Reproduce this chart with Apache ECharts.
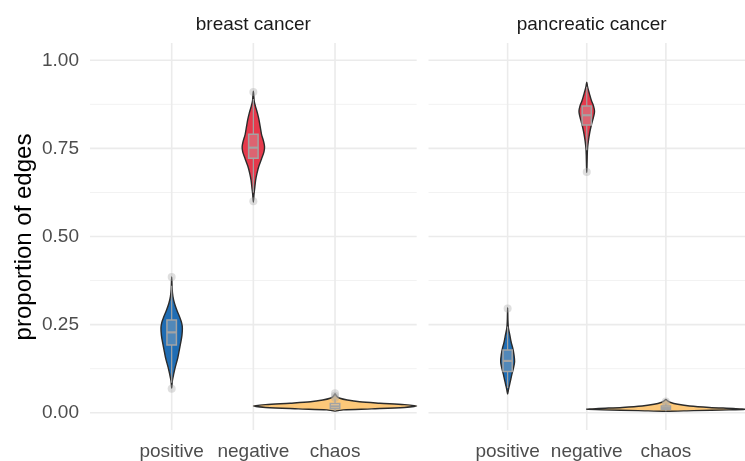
<!DOCTYPE html>
<html>
<head>
<meta charset="utf-8">
<script src="https://cdn.jsdelivr.net/npm/echarts@6/dist/echarts.min.js"></script>
<style>
  html, body { margin: 0; padding: 0; background: #fff; }
  #chart { width: 745px; height: 461px; }
</style>
</head>
<body>
<div id="chart"></div>
<script>
const categories = ['positive', 'negative', 'chaos'];
const panelTitles = ['breast cancer', 'pancreatic cancer'];
const yTicks = [0, 0.25, 0.5, 0.75, 1];
const yMinor = [0.125, 0.375, 0.625, 0.875];
const violinColors = ['#1f6db4', '#e63a4c', '#fdc879'];

// violin outlines: [proportion, half width in category units]
const breastPositive = [[0.07, 0], [0.09, 0.008], [0.11, 0.025], [0.13, 0.045], [0.155, 0.074], [0.18, 0.095],
  [0.2, 0.112], [0.22, 0.126], [0.24, 0.131], [0.255, 0.122], [0.27, 0.1], [0.29, 0.065], [0.31, 0.035],
  [0.33, 0.015], [0.35, 0.006], [0.385, 0]];
const breastNegative = [[0.598, 0], [0.62, 0.008], [0.64, 0.018], [0.66, 0.028], [0.68, 0.045], [0.7, 0.068],
  [0.72, 0.1], [0.74, 0.13], [0.755, 0.137], [0.77, 0.125], [0.79, 0.1], [0.81, 0.085], [0.83, 0.07],
  [0.85, 0.05], [0.87, 0.025], [0.885, 0.01], [0.9, 0.005], [0.912, 0]];
const breastChaos = [[0.005, 0], [0.008, 0.1], [0.011, 0.45], [0.015, 0.85], [0.019, 1.0], [0.023, 0.85],
  [0.027, 0.55], [0.031, 0.3], [0.036, 0.15], [0.041, 0.06], [0.047, 0.02], [0.053, 0]];
const pancPositive = [[0.053, 0], [0.065, 0.01], [0.08, 0.025], [0.095, 0.04], [0.11, 0.055], [0.125, 0.072],
  [0.145, 0.088], [0.165, 0.08], [0.183, 0.065], [0.2, 0.045], [0.22, 0.028], [0.24, 0.01], [0.26, 0.004],
  [0.298, 0]];
const pancNegative = [[0.682, 0], [0.7, 0.003], [0.73, 0.006], [0.75, 0.01], [0.77, 0.02], [0.785, 0.03],
  [0.8, 0.042], [0.815, 0.057], [0.83, 0.075], [0.845, 0.092], [0.856, 0.098], [0.87, 0.086], [0.885, 0.06],
  [0.9, 0.04], [0.91, 0.028], [0.925, 0.01], [0.938, 0]];
const pancChaos = [[0.004, 0], [0.006, 0.35], [0.008, 0.8], [0.01, 1.0], [0.012, 0.85], [0.015, 0.55],
  [0.019, 0.3], [0.024, 0.15], [0.029, 0.06], [0.034, 0.02], [0.038, 0]];

// box stats: [lower whisker, q1, median, q3, upper whisker]
const breastBoxes = [[0.085, 0.192, 0.228, 0.263, 0.36], [0.625, 0.722, 0.752, 0.79, 0.89], [0.005, 0.011, 0.018, 0.026, 0.038]];
const pancBoxes = [[0.07, 0.117, 0.147, 0.178, 0.245], [0.745, 0.816, 0.844, 0.87, 0.925], [0.004, 0.009, 0.013, 0.019, 0.026]];

// outliers: [category position, proportion]
const breastOutliers = [[1, 0.068], [1, 0.385], [2, 0.6], [2, 0.91], [3, 0.042], [3, 0.048], [3, 0.055]];
const pancOutliers = [[1, 0.296], [2, 0.683], [3, 0.027], [3, 0.032]];

const violins = [[breastPositive, breastNegative, breastChaos], [pancPositive, pancNegative, pancChaos]];
const boxes = [breastBoxes, pancBoxes];
const outliers = [breastOutliers, pancOutliers];

const yMin = -0.049, yMax = 1.049;
const xMin = 0, xMax = 4;
const boxHalf = 0.058;
const font = 'Liberation Sans, Arial, Helvetica, sans-serif';

const chart = echarts.init(document.getElementById('chart'));

const grids = [
  { left: 90, top: 43, width: 326.7, height: 389 },
  { left: 428.5, top: 43, width: 326.5, height: 389 }
];

const xAxes = [], yAxes = [], series = [];

grids.forEach(function (g, p) {
  xAxes.push({
    type: 'value', gridIndex: p, min: xMin, max: xMax,
    axisLine: { show: false }, axisTick: { show: false }, splitLine: { show: false },
    axisLabel: {
      customValues: [1, 2, 3],
      formatter: function (v) { return categories[Math.round(v) - 1] || ''; },
      color: '#4d4d4d', fontSize: 19, fontFamily: font, margin: 12
    }
  });
  yAxes.push({
    type: 'value', gridIndex: p, min: yMin, max: yMax,
    axisLine: { show: false }, axisTick: { show: false }, splitLine: { show: false },
    axisLabel: {
      show: p === 0,
      customValues: yTicks,
      formatter: function (v) { return v.toFixed(2); },
      color: '#4d4d4d', fontSize: 19, fontFamily: font, margin: 11
    }
  });

  // horizontal grid lines
  series.push({
    type: 'custom', xAxisIndex: p, yAxisIndex: p, z: 1, silent: true,
    data: yMinor.map(function (v) { return [xMin, v, 0]; }).concat(yTicks.map(function (v) { return [xMin, v, 1]; })),
    renderItem: function (params, api) {
      const a = api.coord([xMin, api.value(1)]);
      const b = api.coord([xMax, api.value(1)]);
      const major = api.value(2) === 1;
      return {
        type: 'line', shape: { x1: a[0], y1: a[1], x2: b[0], y2: b[1] },
        style: { stroke: major ? '#ebebeb' : '#f2f2f2', lineWidth: major ? 1.6 : 1 }
      };
    }
  });
  // vertical grid lines
  series.push({
    type: 'custom', xAxisIndex: p, yAxisIndex: p, z: 1, silent: true,
    data: [[1, 0], [2, 0], [3, 0]],
    renderItem: function (params, api) {
      const a = api.coord([api.value(0), yMin]);
      const b = api.coord([api.value(0), yMax]);
      return {
        type: 'line', shape: { x1: a[0], y1: a[1], x2: b[0], y2: b[1] },
        style: { stroke: '#ebebeb', lineWidth: 1.6 }
      };
    }
  });
  // violins
  series.push({
    type: 'custom', xAxisIndex: p, yAxisIndex: p, z: 3, silent: true,
    data: [[1, 0], [2, 1], [3, 2]],
    renderItem: function (params, api) {
      const c = api.value(0);
      const prof = violins[p][params.dataIndex];
      const right = prof.map(function (d) { return api.coord([c + d[1], d[0]]); });
      const left = prof.slice(1, -1).reverse().map(function (d) { return api.coord([c - d[1], d[0]]); });
      return {
        type: 'polygon',
        shape: { points: right.concat(left), smooth: 0.3 },
        style: { fill: violinColors[params.dataIndex], stroke: '#2b2b2b', lineWidth: 1.4 }
      };
    }
  });
  // boxplots
  series.push({
    type: 'custom', xAxisIndex: p, yAxisIndex: p, z: 4, silent: true,
    data: boxes[p].map(function (b, i) { return [i + 1].concat(b); }),
    renderItem: function (params, api) {
      const c = api.value(0);
      const lo = api.coord([c, api.value(1)]);
      const q1 = api.coord([c - boxHalf, api.value(2)]);
      const md = api.coord([c - boxHalf, api.value(3)]);
      const q3 = api.coord([c + boxHalf, api.value(4)]);
      const hi = api.coord([c, api.value(5)]);
      const gray = '#a3a3a3';
      return {
        type: 'group',
        children: [
          { type: 'line', shape: { x1: lo[0], y1: lo[1], x2: lo[0], y2: q1[1] }, style: { stroke: gray, lineWidth: 1.2 } },
          { type: 'line', shape: { x1: hi[0], y1: q3[1], x2: hi[0], y2: hi[1] }, style: { stroke: gray, lineWidth: 1.2 } },
          { type: 'rect', shape: { x: q1[0], y: q3[1], width: q3[0] - q1[0], height: q1[1] - q3[1] },
            style: { fill: 'rgba(200,200,200,0.3)', stroke: gray, lineWidth: 1.5 } },
          { type: 'line', shape: { x1: md[0], y1: md[1], x2: q3[0], y2: md[1] }, style: { stroke: gray, lineWidth: 2.2 } }
        ]
      };
    }
  });
  // outliers
  series.push({
    type: 'scatter', xAxisIndex: p, yAxisIndex: p, z: 5, silent: true,
    symbolSize: 8,
    itemStyle: { color: 'rgba(165,165,165,0.45)' },
    data: outliers[p]
  });
});

const option = {
  animation: false,
  grid: grids,
  xAxis: xAxes,
  yAxis: yAxes,
  graphic: [
    { type: 'text', x: 253.3, y: 25, style: { text: panelTitles[0], fill: '#1a1a1a', font: '19px ' + font, textAlign: 'center', textVerticalAlign: 'middle' } },
    { type: 'text', x: 591.7, y: 25, style: { text: panelTitles[1], fill: '#1a1a1a', font: '19px ' + font, textAlign: 'center', textVerticalAlign: 'middle' } },
    { type: 'text', x: 24, y: 237, rotation: Math.PI / 2, style: { text: 'proportion of edges', fill: '#000', font: '24px ' + font, textAlign: 'center', textVerticalAlign: 'middle' } }
  ],
  series: series
};

chart.setOption(option);
</script>
</body>
</html>
